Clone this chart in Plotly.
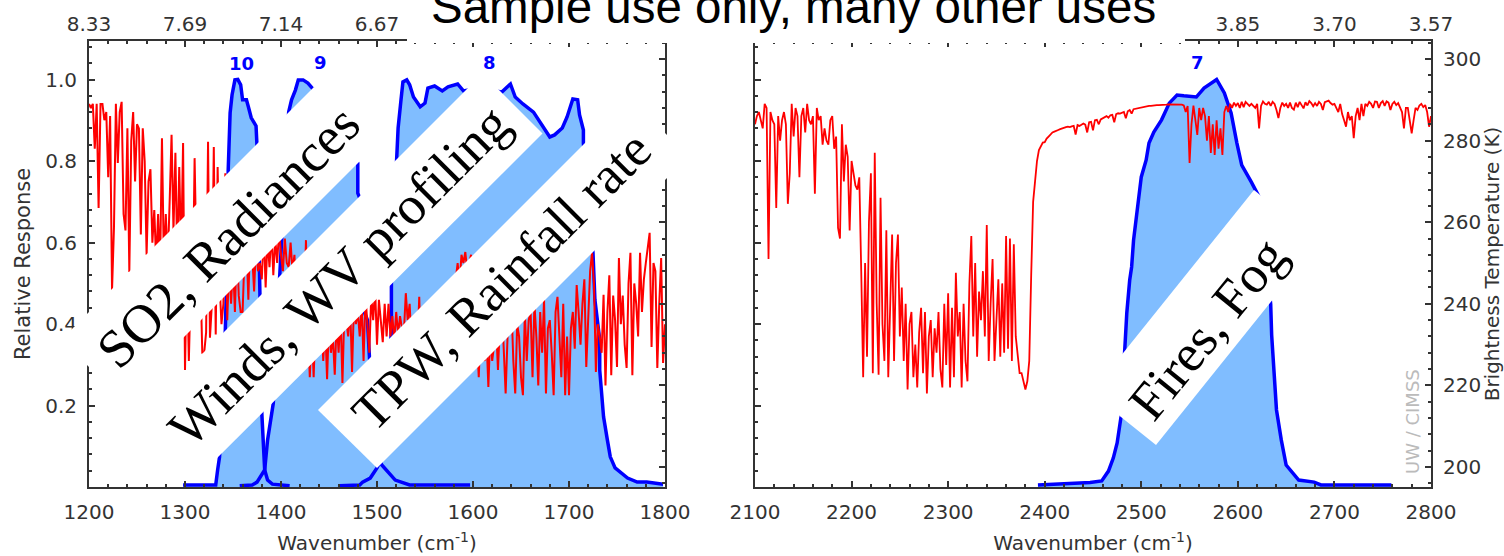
import plotly.graph_objects as go

W, H = 1504, 556
PL, PR, PT, PB = 89, 1431, 41, 487  # plot-area pixel bounds

# ---- response function bands: wavenumber (cm-1), relative response
b10_wn = [1298,1332,1334,1336,1342,1343,1345,1346,1347,1349,1352,1355,1358,1360,1364,1366,1369,1374,1375,1378,1380,1383,1386,1391,1409]
b10_rr = [.005,.005,.042,.074,.385,.476,.778,.837,.918,.962,.999,1.0,.987,.95,.95,.933,.906,.886,.837,.478,.182,.042,.017,.007,.003]
b9_wn = [1357,1370,1375,1383,1386,1392,1395,1399,1400,1404,1408,1411,1415,1418,1423,1428,1434,1446,1461,1472,1480,1480,1482,1486,1490,1492,1496,1500,1505,1519,1534,1597]
b9_rr = [.003,.005,.012,.042,.115,.206,.361,.532,.606,.778,.92,.95,.974,.999,.999,.991,.975,.925,.885,.85,.795,.721,.709,.434,.41,.324,.164,.079,.054,.017,.005,.005]
b8_wn = [1461,1482,1485,1493,1500,1503,1508,1513,1515,1515,1517,1520,1522,1525,1527,1531,1534,1538,1545,1550,1553,1560,1568,1574,1584,1590,1609,1630,1639,1644,1652,1663,1673,1680,1685,1693,1698,1704,1709,1711,1715,1715,1720,1725,1727,1732,1732,1734,1736,1740,1743,1748,1761,1771,1781,1798]
b8_rr = [.003,.005,.012,.022,.047,.061,.164,.287,.39,.5,.631,.807,.881,.95,.994,.999,.987,.957,.933,.942,.979,.984,.972,.982,.989,.972,.98,.969,.989,.957,.94,.92,.883,.859,.864,.881,.908,.952,.95,.913,.876,.844,.704,.574,.459,.361,.287,.231,.172,.115,.074,.047,.022,.012,.012,.007]
b7_wn = [2393,2447,2459,2466,2471,2475,2479,2483,2485,2488,2490,2492,2496,2500,2505,2508,2513,2521,2529,2537,2544,2557,2565,2578,2586,2593,2599,2604,2614,2622,2628,2634,2635,2637,2640,2645,2650,2663,2679,2686,2759]
b7_rr = [.005,.011,.015,.039,.071,.108,.172,.331,.427,.508,.54,.606,.687,.761,.802,.844,.871,.901,.942,.962,.96,.957,.979,1.0,.967,.918,.844,.79,.748,.712,.582,.449,.373,.294,.189,.115,.054,.017,.012,.005,.005]

# ---- brightness temperature spectrum (K), read every 2 cm-1
bt_1200 = [
 289,288,289,278,289,263.5,289,289,285,287,
 271,286,243.4,258.6,289,274.5,287,289.5,262,258,
 283,247.8,280,287,270,284,283,257,283,275,
 252,270,273,255,263,250,262,248,280.6,250,
 262,250,265,281.4,258,277,250,273.5,252,279.4,
 223.8,250,226,245,240,275.7,250,240,248,228,
 228,233,279.7,231.7,240,278.4,232.5,273.5,245,235,
 240,272,236,250,240,250,238,255,242,238,
 238,252,255,241,258,252,243,255,248,250,
 246,258,244,256,249,258,247,256,250,258,
 252,248,256,250,249,255,248,252,240,240,
 238,240,238,255.6,235,222,235,222,236,228,
 232,238,226,235,221.5,236,228,232,222.6,236,
 228,238,220.6,238,236,232,240,223.3,240,235,
 238,232,240,226,242,235,228,242,236,244,
 230,241,236,230.6,240,232,240,232,237,231,
 238,232.6,237,234,233,242.6,236,240,230,228,
 226,228,241.7,226,228,225,230,226,228,225,
 226,230,226,232,228,234,228,235,232,238,
 240,246,250,245,252,250,252.7,248,250,252,
 244,238,232,222,235,228,226,232,219.6,233,
 226,230,235,223.8,235,240,230,218,232,236,
 240,226,218,235,232,222,217.6,238,226,236,
 238,222,240,232,220,238,228,241,218,234,
 236,228,217.6,238,241.7,232,222,240,217.6,232,
 217.6,234,238,229,244.6,238,230,240,246,224.5,
 238,248,252.5,245,223.3,235,232,228,242.2,220,
 238,247,222.5,242,236,224.5,251.2,235,242,230,
 224.3,245,252.5,222.5,245,240,232,252.5,238,246,
 250,254,257.4,229.4,250,248,224.3,240,251.2,225.5,
 235]
bt_2100 = [
 284,286,287,285,283,289,288,251,287,285,
 284,263.5,286,280,285,287,284,264.5,272,289,
 281,288,286,271,286,288,282,289,285,284,
 286,267,288,285,286,279,283,280,279,285,
 286,278,281,258.6,256,284,270,279,276,258,
 275,272,269,268,271,248,222,250,227,260,
 272,223,277,240,222.6,266,235,226,258,222,
 240,257,226,250,257,232,244,226,240,219,
 235,238,222,230,219.5,233,239,223,238,218,
 232,236,222,234,228,238,224,219.5,240,225,
 242.6,219.5,239,222,247.6,232,238,219.5,240,226,
 221,245,256.6,232,250,227,243,236,248,232,
 259.3,226,240,251,226,236,246,227,245,228,
 256.6,229,256,226,254.6,232,228,223,223,221,
 219,221,226,247,265,270,275,277.7,278.6,279.5]
bt_2400 = [
 279.6,280.5,281,281.5,282,282.2,282.5,282.6,282.8,283,283.2,283.3,283.4,283.3,283.5,283.6,281.5,283.8,283.6,284,
 284.2,283.9,282,284.5,284.6,282.5,285,285.1,284,285.2,285.5,285.8,286,285.6,286.2,286.3,284.5,286.5,286.7,286.6,
 286.9,287,285.5,287.2,287.5,286.6,287.7,287.8,288,288.1,288.2,288.3,288.4,288.4,288.5,288.5,288.6,288.6,288.7,288.7,
 288.7,288.8,288.8,288.8,288.9,288.9,288.9,288.9,288.9,288.8,288.8,288.8,288.6,287,288.5,274.5,284,288.6,285,281.4,
 288,285,288,286,280,286,277,284,276.5,285,278,283,276.5,287,288.5,287,289,288,289.3,288.5,
 289.2,288,289.5,288.2,289.5,289,288.5,289,288.5,288,289,283,288.5,289.6,289,288.8,289.5,288.5,289.5,289,
 287.5,285.5,288,289.3,288.5,289,288,289.3,288,287.6,289.3,288.2,289.5,288.8,287.9,289.4,288.6,289.7,289.2,288.4,
 289.2,288.5,289.5,289,287.5,289.4,289.6,289.8,289.2,288.8,289,288,287,289,286.5,285,283.4,287,285,286,
 280.6,286,288,285,289,286,289,288.5,289.5,289,288,289.6,289.5,288,289.2,289.7,288.5,289.6,289.3,287.5,
 289,289.5,288.7,289.2,288,287,283,288,288,285,281.8,285,288,287.5,288.6,289,288.2,288.7,287,283.4,
 286]

# ---- tick labels (labels behind the title box are not visible in the reference)
x_left_ticks = [1200,1300,1400,1500,1600,1700,1800]
x_left_um = ["8.33","7.69","7.14","6.67","","",""]
x_right_ticks = [2100,2200,2300,2400,2500,2600,2700,2800]
x_right_um = ["","","","","","3.85","3.70","3.57"]
rr_ticks = [0.2,0.4,0.6,0.8,1.0]
rr_labels = ["0.2","0.4","0.6","0.8","1.0"]
bt_ticks = [200,220,240,260,280,300]

BLUE, FILL, RED, DARK = "#0000ff", "#80bdff", "#ff0000", "#333333"
TICKFONT = dict(family="DejaVu Sans", size=20, color=DARK)
TITLEFONT = dict(family="DejaVu Sans", size=20, color=DARK)

def px(x): return (x - PL) / (PR - PL)
def py(y): return (PB - y) / (PB - PT)

fig = go.Figure()

def grid(start, vals):
    return [start + 2 * i for i in range(len(vals))]

bands = [
    (b10_wn, b10_rr, "x", "y"), (b9_wn, b9_rr, "x", "y"), (b8_wn, b8_rr, "x", "y"),
    (b7_wn, b7_rr, "x2", "y3"),
]
for wn, rr, xa, ya in bands:
    fig.add_trace(go.Scatter(x=wn, y=rr, mode="lines", xaxis=xa, yaxis=ya, fill="tozeroy",
                             fillcolor=FILL, line=dict(width=0), hoverinfo="skip", showlegend=False))
for wn, rr, xa, ya in bands:
    fig.add_trace(go.Scatter(x=wn, y=rr, mode="lines", xaxis=xa, yaxis=ya,
                             line=dict(color=BLUE, width=3.5), showlegend=False))
fig.add_trace(go.Scatter(x=grid(1200, bt_1200), y=bt_1200, mode="lines", xaxis="x", yaxis="y2",
                         line=dict(color=RED, width=2), showlegend=False))
fig.add_trace(go.Scatter(x=grid(2100, bt_2100) + grid(2400, bt_2400), y=bt_2100 + bt_2400, mode="lines",
                         xaxis="x2", yaxis="y4", line=dict(color=RED, width=1.8), showlegend=False))
# the wavelength axes along the top need a trace of their own to be drawn
fig.add_trace(go.Scatter(x=x_left_ticks, y=[None] * len(x_left_ticks), mode="lines", xaxis="x3", yaxis="y",
                         line=dict(width=0), hoverinfo="skip", showlegend=False))
fig.add_trace(go.Scatter(x=x_right_ticks, y=[None] * len(x_right_ticks), mode="lines", xaxis="x4", yaxis="y3",
                         line=dict(width=0), hoverinfo="skip", showlegend=False))

axis_common = dict(showgrid=False, zeroline=False, showline=True, linecolor=DARK, linewidth=2,
                   ticks="inside", ticklen=6, tickwidth=1.5, tickcolor=DARK, tickfont=TICKFONT,
                   ticklabelstandoff=6)
def xminor(): return dict(ticks="inside", ticklen=3, tickwidth=1.5, tickcolor=DARK, tickmode="linear", tick0=1200, dtick=20, showgrid=False)
def rrminor(): return dict(ticks="inside", ticklen=3, tickwidth=1.5, tickcolor=DARK, tickmode="linear", tick0=0, dtick=0.04, showgrid=False)
def btminor(): return dict(ticks="inside", ticklen=3, tickwidth=1.5, tickcolor=DARK, tickmode="linear", tick0=200, dtick=4, showgrid=False)

dom_l = [px(89), px(665)]
dom_r = [px(755), px(1431)]
RR_RANGE = [0, (PB - PT) / 407.5]
BT_RANGE = [300 - (PB - 59) / 4.08, 300 + (59 - PT) / 4.08]
XTITLE = "Wavenumber (cm<sup>-1</sup>)"

fig.update_layout(
    width=W, height=H, autosize=False, paper_bgcolor="white", plot_bgcolor="white", showlegend=False,
    margin=dict(l=PL, r=W - PR, t=PT, b=H - PB, autoexpand=False),
    xaxis=dict(axis_common, domain=dom_l, range=[1200, 1800], anchor="y", tickmode="array",
               tickvals=x_left_ticks, ticktext=[str(v) for v in x_left_ticks], minor=xminor(),
               title=dict(text=XTITLE, font=TITLEFONT, standoff=13)),
    xaxis2=dict(axis_common, domain=dom_r, range=[2100, 2800], anchor="y3", tickmode="array",
                tickvals=x_right_ticks, ticktext=[str(v) for v in x_right_ticks], minor=xminor(),
                title=dict(text=XTITLE, font=TITLEFONT, standoff=13)),
    xaxis3=dict(axis_common, domain=dom_l, range=[1200, 1800], anchor="y", overlaying="x", side="top",
                tickmode="array", tickvals=x_left_ticks, ticktext=x_left_um, minor=xminor(), ticklabelstandoff=0),
    xaxis4=dict(axis_common, domain=dom_r, range=[2100, 2800], anchor="y3", overlaying="x2", side="top",
                tickmode="array", tickvals=x_right_ticks, ticktext=x_right_um, minor=xminor(), ticklabelstandoff=0),
    yaxis=dict(axis_common, domain=[0, 1], range=RR_RANGE, anchor="x", tickmode="array",
               tickvals=rr_ticks, ticktext=rr_labels, minor=rrminor(),
               title=dict(text="Relative Response", font=dict(TITLEFONT, size=21), standoff=9)),
    yaxis2=dict(axis_common, domain=[0, 1], range=BT_RANGE, anchor="x", overlaying="y", side="right",
                tickmode="array", tickvals=bt_ticks, showticklabels=False, minor=btminor()),
    yaxis3=dict(axis_common, domain=[0, 1], range=RR_RANGE, anchor="x2", tickmode="array",
                tickvals=rr_ticks, showticklabels=False, minor=rrminor()),
    yaxis4=dict(axis_common, domain=[0, 1], range=BT_RANGE, anchor="x2", overlaying="y3", side="right",
                tickmode="array", tickvals=bt_ticks, ticktext=[str(v) for v in bt_ticks], minor=btminor(),
                title=dict(text="Brightness Temperature (K)", font=dict(TITLEFONT, size=20), standoff=6)),
)

def poly(pts):
    return "M " + " L ".join(f"{px(x):.5f} {py(y):.5f}" for x, y in pts) + " Z"

banners = [
    [(61.5, 339.5), (314, 87), (374, 147), (121.5, 399.5)],
    [(138, 418), (482.5, 73.5), (542.5, 133.5), (198, 477)],
    [(318, 410), (630, 98), (688.5, 156.5), (377, 468)],
    [(1091, 393), (1254, 190), (1319, 242), (1156, 445)],
    [(407, -5), (1185, -5), (1185, 43), (407, 43)],
]
fig.update_layout(shapes=[dict(type="path", xref="paper", yref="paper", path=poly(p),
                               fillcolor="white", line=dict(width=0), layer="above") for p in banners])

def note(text, x, y, size, family, color="black", angle=0, bold=False):
    return dict(text=text, x=px(x), y=py(y), xref="paper", yref="paper", showarrow=False,
                xanchor="center", yanchor="middle", textangle=angle,
                font=dict(family=family, size=size, color=color, weight="bold" if bold else "normal"))

SERIF = "Liberation Serif"
fig.update_layout(annotations=[
    note("Sample use only, many other uses", 793.5, 6, 47.5, "Liberation Sans"),
    note("SO2, Radiances", 228, 237, 54, SERIF, angle=-45),
    note("Winds, WV profiling", 339, 276, 54, SERIF, angle=-45),
    note("TPW, Rainfall rate", 501, 281, 53, SERIF, angle=-45),
    note("Fires, Fog", 1207, 329, 53, SERIF, angle=-51),
    note("10", 241, 63, 18, "DejaVu Sans", BLUE, bold=True),
    note("9", 320, 62, 18, "DejaVu Sans", BLUE, bold=True),
    note("8", 490, 62, 18, "DejaVu Sans", BLUE, bold=True),
    note("7", 1197, 62, 18, "DejaVu Sans", BLUE, bold=True),
    note("UW / CIMSS", 1412, 422, 18, "DejaVu Sans", "#bbbbbb", angle=-90),
])

fig.write_html("out.html", config=dict(displayModeBar=False),
               post_script="document.body.style.margin='0';document.documentElement.style.overflow='hidden';")
